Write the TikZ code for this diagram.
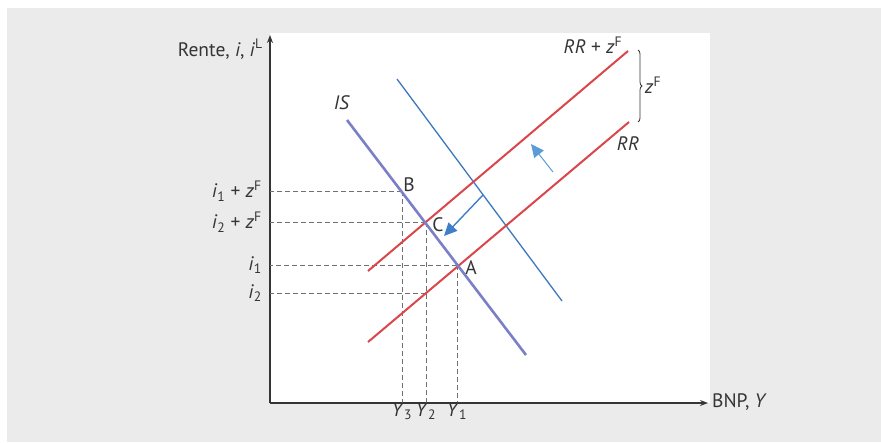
\documentclass[tikz,border=0pt]{standalone}
\usepackage{fontspec}
\setmainfont{PT Sans}
\usetikzlibrary{positioning,arrows.meta,decorations.pathreplacing}
\definecolor{bgPanel}{HTML}{EBEBEB}
\definecolor{plotInk}{HTML}{353535}
\definecolor{guideGray}{HTML}{707070}
\definecolor{rrRed}{HTML}{D9464C}
\definecolor{isPurple}{HTML}{7B80C6}
\definecolor{shiftBlue}{HTML}{3C78C0}
\definecolor{moveBlue}{HTML}{3F7FC8}
\definecolor{moveLight}{HTML}{5B9BD8}
\newcommand{\ivar}[2]{\textit{#1}\textsubscript{#2}}
\newcommand{\zF}{\textit{z}\textsuperscript{F}}

\begin{document}
\begin{tikzpicture}[x=1pt,y=-1pt,
          every node/.style={font=\fontsize{19.5pt}{22pt}\selectfont,
                             text=plotInk,inner sep=1pt},
          axis/.style={plotInk,line width=1.5pt,
                       -{Stealth[length=8pt,width=6pt]}},
          guide/.style={guideGray,line width=0.8pt,dash pattern=on 5pt off 3pt},
          rrline/.style={rrRed,line width=2pt},
          isline/.style={isPurple,line width=2.6pt},
          shiftline/.style={shiftBlue,line width=1.3pt},
          move/.style={line width=1.4pt,-{Triangle[length=13pt,width=12pt]}},
        ]
        \useasboundingbox (0,0) rectangle (881,442);
        % panels
        \fill[white] (0,0) rectangle (881,442);
        \fill[bgPanel] (7,8) rectangle (881,442);
        \fill[white] (270,33) rectangle (710,403);

        % axes
        \coordinate (O) at (270,403);
        \coordinate (ytop) at (270,35);
        \coordinate (xend) at (708,403);
        \draw[axis] (O) -- (ytop);
        \draw[axis] (O) -- (xend);
        \node[anchor=east] (ylab) at (264,49) {Rente, \textit{i}, \textit{i}\textsuperscript{L}};
        \node[anchor=west] (xlab) at (711,402) {BNP, \textit{Y}};

        % curve ends
        \coordinate (is0) at (347,120);
        \coordinate (is1) at (526,355);
        \coordinate (isb0) at (397,79);
        \coordinate (isb1) at (562,301);
        \coordinate (rr0) at (368,342);
        \coordinate (rr1) at (629,122);
        \coordinate (rz0) at (368,271);
        \coordinate (rz1) at (628,51);

        % equilibria
        \coordinate (B) at (402,191);
        \coordinate (C) at (426,222);
        \coordinate (A) at (457,265);
        \coordinate (D) at (426,293);

        % guides
        \draw[guide] (B) -- (B -| O);
        \draw[guide] (C) -- (C -| O);
        \draw[guide] (A) -- (A -| O);
        \draw[guide] (D) -- (D -| O);
        \draw[guide] (B) -- (B |- O);
        \draw[guide] (C) -- (C |- O);
        \draw[guide] (A) -- (A |- O);

        % curves
        \draw[shiftline] (isb0) -- (isb1);
        \draw[rrline] (rz0) -- (rz1);
        \draw[rrline] (rr0) -- (rr1);
        \draw[isline] (is0) -- (is1);

        % shifts
        \coordinate (mv0) at (483,195);
        \coordinate (mv1) at (444,236);
        \coordinate (up0) at (553,172);
        \coordinate (up1) at (531,144);
        \draw[move,moveBlue] (mv0) -- (mv1);
        \draw[move,moveLight,line width=1pt] (up0) -- (up1);

        % brace
        \coordinate (br0) at (638,50);
        \coordinate (br1) at (638,122);
        \draw[plotInk,line width=0.8pt,decorate,decoration={brace,amplitude=4pt}]
              (br0) -- (br1);

        % labels
        \node (lIS) at (342,103) {\textit{IS}};
        \node (lRz) at (593,45) {\textit{RR} + \zF};
        \node (lRR) at (628,144) {\textit{RR}};
        \node (lzF) at (653,85) {\zF};
        \node (lB) at (409,185) {B};
        \node (lC) at (438,225) {C};
        \node (lA) at (471,268) {A};

        \node[anchor=east] (li1z) at ([xshift=-7pt]B -| O) {\ivar{i}{1} + \zF};
        \node[anchor=east] (li2z) at ([xshift=-7pt]C -| O) {\ivar{i}{2} + \zF};
        \node[anchor=east] (li1) at ([xshift=-7pt]A -| O) {\ivar{i}{1}};
        \node[anchor=east] (li2) at ([xshift=-7pt]D -| O) {\ivar{i}{2}};

        \node[anchor=north] (lY3) at ([yshift=1pt]B |- O) {\ivar{Y}{3}};
        \node[anchor=north] (lY2) at ([yshift=1pt]C |- O) {\ivar{Y}{2}};
        \node[anchor=north] (lY1) at ([yshift=1pt]A |- O) {\ivar{Y}{1}};
      \end{tikzpicture}
\end{document}
